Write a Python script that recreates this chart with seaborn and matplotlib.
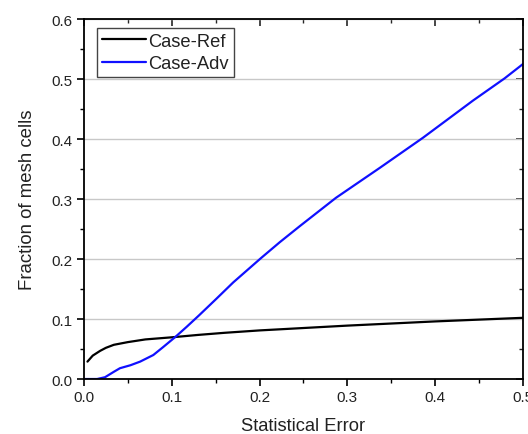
import matplotlib
matplotlib.use("Agg")
import matplotlib.pyplot as plt
import seaborn as sns
import pandas as pd
from matplotlib.ticker import MultipleLocator

# ---- data ----
ref_x = [0.004, 0.01, 0.0185, 0.025, 0.034, 0.05, 0.07, 0.1, 0.13, 0.16, 0.2, 0.3, 0.4, 0.5]
ref_y = [0.029, 0.039, 0.047, 0.052, 0.057, 0.0615, 0.066, 0.0695, 0.0735, 0.077, 0.081, 0.089, 0.096, 0.102]

adv_x = [0.0, 0.015, 0.024, 0.034, 0.041, 0.053, 0.064, 0.079, 0.09, 0.104, 0.117,
         0.131, 0.151, 0.17, 0.202, 0.223, 0.246, 0.287, 0.337, 0.386, 0.443, 0.479, 0.5]
adv_y = [0.0, 0.0, 0.003, 0.012, 0.018, 0.023, 0.029, 0.040, 0.053, 0.07, 0.087,
         0.106, 0.134, 0.161, 0.202, 0.228, 0.255, 0.302, 0.352, 0.402, 0.464, 0.501, 0.525]

series_names = ["Case-Ref", "Case-Adv"]
colors = {"Case-Ref": "#000000", "Case-Adv": "#1010ff"}

x_label = "Statistical Error"
y_label = "Fraction of mesh cells"

df = pd.concat([
    pd.DataFrame({"x": ref_x, "y": ref_y, "series": series_names[0]}),
    pd.DataFrame({"x": adv_x, "y": adv_y, "series": series_names[1]}),
], ignore_index=True)

sns.set_theme(style="white")
plt.rcParams["font.family"] = ["Liberation Sans", "DejaVu Sans"]

fig = plt.figure(figsize=(5.28, 4.35), dpi=100)
ax = fig.add_axes([0.159, 0.1264, 0.8315, 0.8276])

sns.lineplot(data=df, x="x", y="y", hue="series", hue_order=series_names,
             palette=colors, ax=ax, linewidth=1.6, sort=False, estimator=None)

ax.set_xlim(0, 0.5)
ax.set_ylim(0, 0.6)
ax.xaxis.set_major_locator(MultipleLocator(0.1))
ax.xaxis.set_minor_locator(MultipleLocator(0.05))
ax.yaxis.set_major_locator(MultipleLocator(0.1))
ax.yaxis.set_minor_locator(MultipleLocator(0.05))
ax.xaxis.set_major_formatter(matplotlib.ticker.FormatStrFormatter("%.1f"))
ax.yaxis.set_major_formatter(matplotlib.ticker.FormatStrFormatter("%.1f"))

ax.yaxis.grid(True, which="major", color="#c8c8c8", linewidth=1.0)
ax.xaxis.grid(False)
ax.set_axisbelow(True)

for s in ax.spines.values():
    s.set_visible(True)
    s.set_color("black")
    s.set_linewidth(1.3)

ax.tick_params(axis="both", which="major", direction="out", length=5, width=1.2,
               color="black", labelsize=11, labelcolor="#222222", pad=3)
ax.tick_params(axis="both", which="minor", direction="out", length=3, width=1.0, color="black")
ax.tick_params(which="both", bottom=True, left=True, top=False, right=False)

# inward ticks on top and right
axt = ax.secondary_xaxis("top")
axt.xaxis.set_major_locator(MultipleLocator(0.1))
axt.xaxis.set_minor_locator(MultipleLocator(0.05))
axt.tick_params(which="major", direction="in", length=5, width=1.2, labeltop=False)
axt.tick_params(which="minor", direction="in", length=3, width=1.0)
axt.spines["top"].set_visible(False)
axr = ax.secondary_yaxis("right")
axr.yaxis.set_major_locator(MultipleLocator(0.1))
axr.yaxis.set_minor_locator(MultipleLocator(0.05))
axr.tick_params(which="major", direction="in", length=5, width=1.2, labelright=False)
axr.tick_params(which="minor", direction="in", length=3, width=1.0)
axr.spines["right"].set_visible(False)

ax.set_xlabel(x_label, fontsize=13.2, color="#222222", labelpad=9)
ax.set_ylabel(y_label, fontsize=13.4, color="#222222", labelpad=11)

leg = ax.legend(loc="upper left", bbox_to_anchor=(0.03, 0.975), borderaxespad=0,
                frameon=True, fancybox=False, edgecolor="#444444", fontsize=13.2,
                handlelength=2.4, handletextpad=0.15, borderpad=0.25, labelspacing=0.32)
leg.get_frame().set_linewidth(1.0)
leg.get_frame().set_alpha(1)
for t in leg.get_texts():
    t.set_color("#222222")

fig.savefig("out.png", dpi=100)
